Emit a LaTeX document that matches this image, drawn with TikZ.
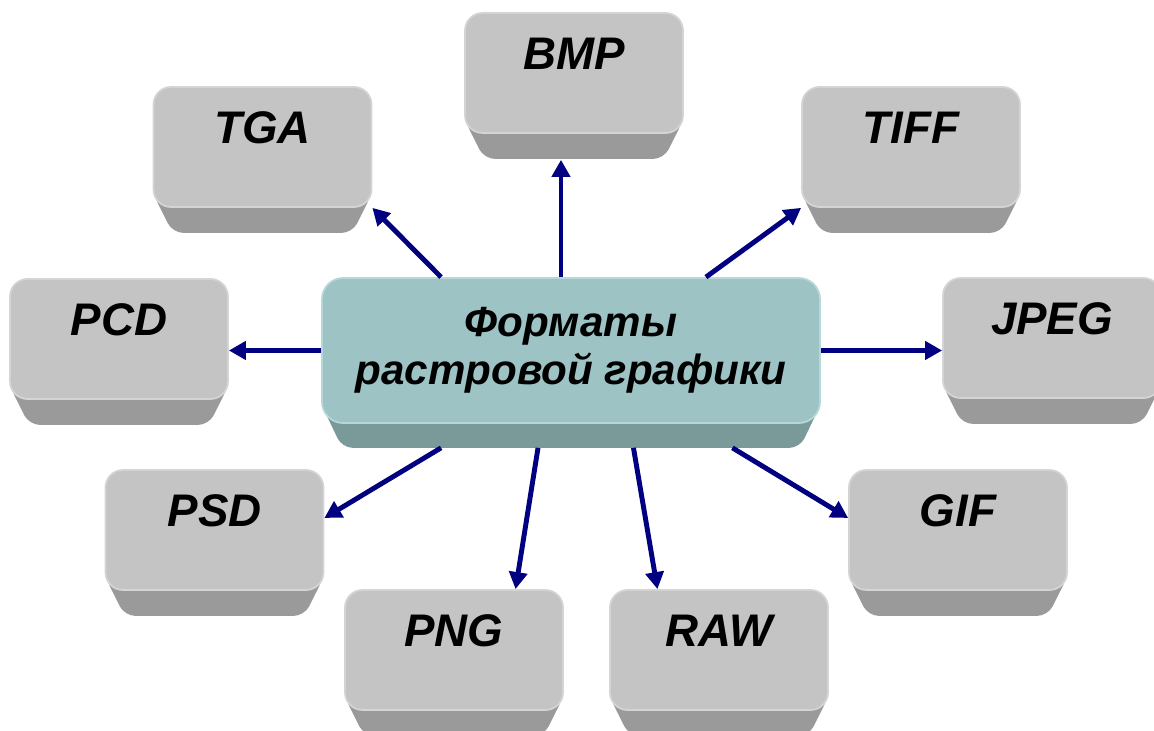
\documentclass[tikz,border=0pt]{standalone}
\usepackage{fontspec}
\setmainfont{Liberation Sans}
\usetikzlibrary{arrows.meta,calc,backgrounds}
\definecolor{keyface}{HTML}{C4C4C4}
\definecolor{keyrim}{HTML}{D4D4D4}
\definecolor{keyside}{HTML}{9A9A9A}
\definecolor{hubface}{HTML}{9DC3C4}
\definecolor{hubrim}{HTML}{B6D8D8}
\definecolor{hubside}{HTML}{7A9A99}
\definecolor{arrblue}{HTML}{000080}
\tikzset{
 keybox/.style={rectangle,rounded corners=10pt,fill=keyface,draw=keyrim,line width=1pt,
  minimum width=4.36cm,minimum height=2.4cm,inner sep=0pt,text height=0.7cm,text depth=0.84cm,
  font=\fontsize{26}{30}\selectfont\bfseries\itshape},
 hubbox/.style={rectangle,rounded corners=12pt,fill=hubface,draw=hubrim,line width=1pt,
  minimum width=9.96cm,minimum height=2.9cm,inner sep=0pt,align=center,
  font=\fontsize{24}{27}\selectfont\bfseries\itshape},
 bevel/.style={fill=keyside,rounded corners=6pt},
 hubbevel/.style={fill=hubside,rounded corners=6pt},
 arr/.style={draw=arrblue,line width=2.8pt,-{Triangle[length=0.34cm,width=0.36cm,fill=arrblue]}}
}
\begin{document}
\begin{tikzpicture}
 \useasboundingbox (0,0) rectangle (23.08,14.62);
 % keys
 \node[hubbox] (c) at (11.42,7.61) {Форматы\\растровой графики};
 \node[keybox] (bmp) at (11.48,13.16) {BMP};
 \node[keybox] (tga) at (5.25,11.68) {TGA};
 \node[keybox] (tiff) at (18.22,11.68) {TIFF};
 \node[keybox] (pcd) at (2.38,7.84) {PCD};
 \node[keybox] (jpeg) at (21.04,7.86) {JPEG};
 \node[keybox] (psd) at (4.29,4.02) {PSD};
 \node[keybox] (gif) at (19.16,4.02) {GIF};
 \node[keybox] (png) at (9.08,1.62) {PNG};
 \node[keybox] (raw) at (14.38,1.62) {RAW};
 % bottom sides
 \begin{scope}[on background layer]
 \fill[hubbevel] ([yshift=0.4cm]c.south west) -- ([xshift=0.42cm,yshift=-0.48cm]c.south west) -- ([xshift=-0.42cm,yshift=-0.48cm]c.south east) -- ([yshift=0.4cm]c.south east) -- cycle;
 \fill[bevel] ([yshift=0.3cm]bmp.south west) -- ([xshift=0.4cm,yshift=-0.5cm]bmp.south west) -- ([xshift=-0.4cm,yshift=-0.5cm]bmp.south east) -- ([yshift=0.3cm]bmp.south east) -- cycle;
 \fill[bevel] ([yshift=0.3cm]tga.south west) -- ([xshift=0.4cm,yshift=-0.5cm]tga.south west) -- ([xshift=-0.4cm,yshift=-0.5cm]tga.south east) -- ([yshift=0.3cm]tga.south east) -- cycle;
 \fill[bevel] ([yshift=0.3cm]tiff.south west) -- ([xshift=0.4cm,yshift=-0.5cm]tiff.south west) -- ([xshift=-0.4cm,yshift=-0.5cm]tiff.south east) -- ([yshift=0.3cm]tiff.south east) -- cycle;
 \fill[bevel] ([yshift=0.3cm]pcd.south west) -- ([xshift=0.4cm,yshift=-0.5cm]pcd.south west) -- ([xshift=-0.4cm,yshift=-0.5cm]pcd.south east) -- ([yshift=0.3cm]pcd.south east) -- cycle;
 \fill[bevel] ([yshift=0.3cm]jpeg.south west) -- ([xshift=0.4cm,yshift=-0.5cm]jpeg.south west) -- ([xshift=-0.4cm,yshift=-0.5cm]jpeg.south east) -- ([yshift=0.3cm]jpeg.south east) -- cycle;
 \fill[bevel] ([yshift=0.3cm]psd.south west) -- ([xshift=0.4cm,yshift=-0.5cm]psd.south west) -- ([xshift=-0.4cm,yshift=-0.5cm]psd.south east) -- ([yshift=0.3cm]psd.south east) -- cycle;
 \fill[bevel] ([yshift=0.3cm]gif.south west) -- ([xshift=0.4cm,yshift=-0.5cm]gif.south west) -- ([xshift=-0.4cm,yshift=-0.5cm]gif.south east) -- ([yshift=0.3cm]gif.south east) -- cycle;
 \fill[bevel] ([yshift=0.3cm]png.south west) -- ([xshift=0.4cm,yshift=-0.5cm]png.south west) -- ([xshift=-0.4cm,yshift=-0.5cm]png.south east) -- ([yshift=0.3cm]png.south east) -- cycle;
 \fill[bevel] ([yshift=0.3cm]raw.south west) -- ([xshift=0.4cm,yshift=-0.5cm]raw.south west) -- ([xshift=-0.4cm,yshift=-0.5cm]raw.south east) -- ([yshift=0.3cm]raw.south east) -- cycle;
 \end{scope}
 % arrows
 \coordinate (cbl) at ([yshift=-0.48cm]c.south west);
 \coordinate (cbr) at ([yshift=-0.48cm]c.south east);
 \coordinate (t1) at ($(c.north west)!.48!(c.north east)$);
 \draw[arr] (t1) -- ([yshift=-0.52cm]t1 |- bmp.south);
 \draw[arr] ($(c.north west)!.24!(c.north east)$) -- (tga.south east);
 \draw[arr] ($(c.north west)!.77!(c.north east)$) -- (tiff.south west);
 \draw[arr] (c.west) -- (c.west -| pcd.east);
 \draw[arr] (c.east) -- (c.east -| jpeg.west);
 \draw[arr] ($(cbl)!.24!(cbr)$) -- ([yshift=0.24cm]psd.east);
 \draw[arr] ($(cbl)!.434!(cbr)$) -- ($(png.north west)!.78!(png.north east)$);
 \draw[arr] ($(cbl)!.625!(cbr)$) -- ($(raw.north west)!.22!(raw.north east)$);
 \draw[arr] ($(cbl)!.823!(cbr)$) -- ([yshift=0.24cm]gif.west);
\end{tikzpicture}
\end{document}
